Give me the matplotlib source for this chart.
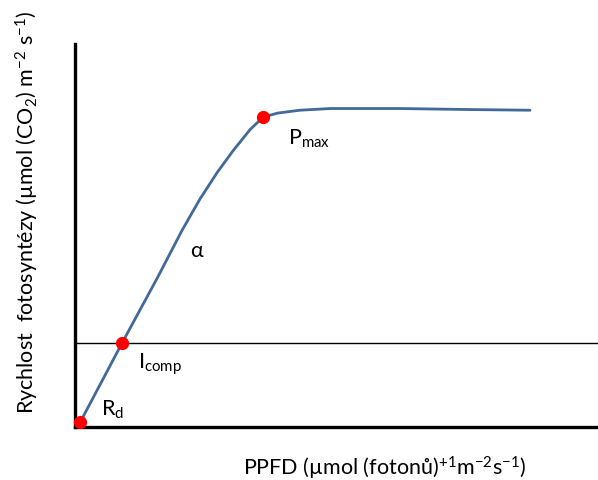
import matplotlib
matplotlib.use("Agg")
import matplotlib.pyplot as plt

plt.rcParams['font.family'] = ['Lato', 'DejaVu Sans']
plt.rcParams['mathtext.default'] = 'regular'

# Light-response curve (PPFD vs photosynthesis rate)
ppfd = [10, 90, 159, 205, 239, 272, 302, 335, 360, 388, 430, 488, 621, 755, 870]
rate = [-7.0, 0.0, 5.9, 10.0, 12.75, 15.1, 17.0, 18.9, 20.0, 20.35, 20.6, 20.75, 20.75, 20.66, 20.6]

# Key points: Rd, I_comp, P_max
key_x = [10, 90, 360]
key_y = [-7.0, 0.0, 20.0]

W, H = 598, 481
fig = plt.figure(figsize=(W / 100, H / 100), dpi=100)
ax = fig.add_axes([75 / W, 53 / H, 523 / W, 383 / H])
ax.set_xlim(0, 1000)
ax.set_ylim(-7.43, 26.46)

ax.axhline(0, color='black', lw=1.0, zorder=1)
ax.plot(ppfd, rate, color='#41699a', lw=2.0, zorder=2,
        solid_capstyle='round', solid_joinstyle='round')
ax.plot(key_x, key_y, 'o', color='#ff0000', ms=8.5, zorder=3, clip_on=False)

for s in ['top', 'right']:
    ax.spines[s].set_visible(False)
ax.spines['left'].set_linewidth(2.4)
ax.spines['bottom'].set_linewidth(2.4)
ax.set_xticks([])
ax.set_yticks([])

fs = 15.5
ax.text(50, -6.3, r'R$_d$', fontsize=fs, ha='left', va='baseline')
ax.text(120, -2.2, r'I$_{comp}$', fontsize=fs, ha='left', va='baseline')
ax.text(407, 17.6, r'P$_{max}$', fontsize=fs, ha='left', va='baseline')
ax.text(233, 8.2, 'α', fontsize=fs, ha='center', va='center')

fig.text(27 / W, 1 - 212 / H,
         r'Rychlost  fotosyntézy (µmol (CO$_2$) m$^{-2}$ s$^{-1}$)',
         rotation=90, ha='center', va='center', fontsize=fs)
fig.text(385 / W, 1 - 468 / H,
         r'PPFD (µmol (fotonů)$^{+1}$m$^{-2}$s$^{-1}$)',
         ha='center', va='center', fontsize=fs)

fig.savefig('out.png', dpi=100)
